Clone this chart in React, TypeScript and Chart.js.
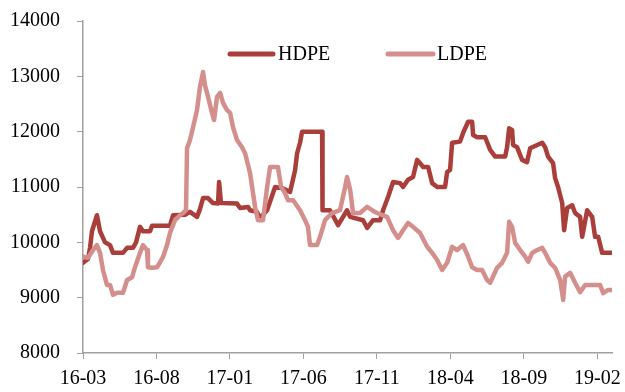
import React, { useEffect, useRef } from "react";
import { Chart, registerables } from "chart.js";

Chart.register(...registerables);

// x positions are months since 2016-03
const tickMonths = [0, 5, 10, 15, 20, 25, 30, 35];
const tickLabels = ["16-03", "16-08", "17-01", "17-06", "17-11", "18-04", "18-09", "19-02"];

const hdpeMonths = [
  0, 0.34, 0.48, 0.61, 0.95, 1.16, 1.5, 1.84, 2.04, 2.72, 3.0, 3.4, 3.61, 3.88, 4.08, 4.56, 4.7, 5.92,
  6.13, 6.94, 7.28, 7.76, 7.96, 8.17, 8.51, 8.85, 9.19, 9.26, 9.39, 10.48, 10.69, 11.23, 11.37, 11.84,
  12.05, 12.53, 13.07, 13.55, 14.09, 14.43, 14.57, 14.77, 14.91, 16.27, 16.3, 16.81, 17.36, 17.97, 18.18,
  19.06, 19.34, 19.74, 20.22, 20.42, 20.76, 21.1, 21.58, 21.78, 22.12, 22.46, 22.74, 22.94, 23.15, 23.49,
  23.76, 24.1, 24.64, 24.78, 24.98, 25.12, 25.66, 25.87, 26.21, 26.48, 26.55, 26.82, 27.37, 27.71, 28.05,
  28.73, 28.86, 29.0, 29.2, 29.27, 29.54, 29.88, 30.22, 30.43, 30.91, 31.25, 31.45, 31.65, 31.99, 32.13,
  32.33, 32.61, 32.74, 32.95, 33.29, 33.49, 33.83, 33.97, 34.31, 34.65, 34.85, 35.06, 35.33, 36.0,
];
const hdpeValues = [
  9630, 9700, 9900, 10200, 10490, 10200, 10000, 9950, 9810, 9810, 9900, 9900, 10000, 10280, 10200, 10200,
  10300, 10300, 10490, 10500, 10550, 10460, 10600, 10800, 10800, 10710, 10700, 11090, 10710, 10700, 10620,
  10640, 10580, 10550, 10440, 10580, 11000, 10980, 10910, 11300, 11610, 11800, 12000, 12000, 10580, 10580,
  10310, 10580, 10460, 10400, 10260, 10400, 10400, 10580, 10820, 11090, 11070, 11000, 11130, 11180, 11490,
  11430, 11360, 11360, 11070, 11000, 11000, 11270, 11310, 11800, 11820, 11980, 12180, 12180, 11940, 11900,
  11900, 11670, 11550, 11550, 11720, 12060, 12030, 11760, 11720, 11490, 11450, 11700, 11760, 11800, 11720,
  11550, 11430, 11160, 11000, 10710, 10220, 10620, 10670, 10530, 10460, 10100, 10580, 10460, 10100, 10100,
  9810, 9810,
];

const ldpeMonths = [
  0, 0.34, 0.68, 0.95, 1.16, 1.36, 1.63, 1.84, 2.04, 2.31, 2.72, 3.0, 3.34, 3.54, 3.88, 4.08, 4.36, 4.42,
  4.7, 5.04, 5.24, 5.45, 5.72, 5.92, 6.26, 6.6, 6.81, 7.01, 7.08, 7.28, 7.49, 7.76, 7.96, 8.17, 8.3, 8.51,
  8.78, 8.92, 9.12, 9.33, 9.53, 9.8, 10.01, 10.21, 10.48, 10.82, 11.03, 11.37, 11.57, 11.71, 11.91, 12.25,
  12.53, 12.73, 13.27, 13.48, 13.75, 13.96, 14.3, 14.77, 15.11, 15.31, 15.45, 15.93, 16.13, 16.47, 16.95,
  17.49, 17.84, 17.97, 18.18, 18.38, 18.86, 19.33, 19.67, 20.01, 20.69, 21.1, 21.44, 21.78, 22.12, 22.46,
  22.94, 23.42, 23.76, 24.1, 24.44, 24.78, 25.12, 25.46, 25.87, 26.21, 26.48, 26.82, 27.16, 27.5, 27.71,
  28.18, 28.52, 28.86, 29.0, 29.2, 29.41, 29.75, 30.09, 30.29, 30.57, 30.91, 31.25, 31.45, 31.79, 32.13,
  32.47, 32.68, 32.81, 33.15, 33.49, 33.83, 34.17, 35.19, 35.4, 35.74, 36.0,
];
const ldpeValues = [
  9740, 9720, 9860, 9950, 9810, 9500, 9230, 9230, 9050, 9090, 9090, 9320, 9370, 9550, 9810, 9950, 9860,
  9550, 9540, 9550, 9640, 9740, 9950, 10170, 10400, 10490, 10530, 10580, 11700, 11850, 12080, 12390, 12810,
  13080, 12840, 12630, 12340, 12210, 12630, 12700, 12520, 12390, 12340, 12080, 11850, 11720, 11610, 11250,
  10890, 10640, 10400, 10400, 11000, 11360, 11360, 11000, 10890, 10760, 10760, 10580, 10400, 10280, 9950,
  9950, 10100, 10400, 10530, 10580, 11000, 11180, 10950, 10530, 10530, 10640, 10580, 10530, 10460, 10220,
  10080, 10220, 10350, 10280, 10170, 9920, 9810, 9680, 9500, 9630, 9920, 9860, 9950, 9740, 9550, 9500, 9500,
  9320, 9270, 9540, 9630, 9810, 10370, 10280, 9990, 9860, 9740, 9650, 9810, 9860, 9900, 9810, 9630, 9540,
  9320, 8960, 9380, 9450, 9270, 9100, 9230, 9230, 9080, 9140, 9140,
];

const HDPE_COLOR = "#A93E3A";
const LDPE_COLOR = "#D48F8D";
const AXIS_COLOR = "#A0A0A0";
const FONT_FAMILY = '"Liberation Serif", "Times New Roman", serif';

const legendPlugin = {
  id: "customLegend",
  afterDraw(chart: any) {
    const ctx = chart.ctx;
    const items = [
      { ds: 0, x1: 230, x2: 273, tx: 278 },
      { ds: 1, x1: 388, x2: 433, tx: 437 },
    ];
    const y = 54;
    ctx.save();
    for (const it of items) {
      const ds = chart.data.datasets[it.ds];
      ctx.strokeStyle = ds.borderColor;
      ctx.lineWidth = 5;
      ctx.lineCap = "round";
      ctx.beginPath();
      ctx.moveTo(it.x1, y);
      ctx.lineTo(it.x2, y);
      ctx.stroke();
      ctx.fillStyle = "#000";
      ctx.font = `20px ${FONT_FAMILY}`;
      ctx.textBaseline = "middle";
      ctx.textAlign = "left";
      ctx.fillText(ds.label, it.tx, y + 1);
    }
    ctx.restore();
  },
};

export default function App() {
  const ref = useRef<HTMLCanvasElement>(null);
  useEffect(() => {
    document.body.style.margin = "0";
    const canvas = ref.current!;
    const chart = new Chart(canvas, {
      type: "line",
      data: {
        datasets: [
          {
            label: "HDPE",
            data: hdpeMonths.map((m, i) => ({ x: m, y: hdpeValues[i] })),
            borderColor: HDPE_COLOR,
            backgroundColor: HDPE_COLOR,
            borderWidth: 4.5,
            pointRadius: 0,
            tension: 0,
            borderJoinStyle: "round",
            borderCapStyle: "round",
            order: 1,
          },
          {
            label: "LDPE",
            data: ldpeMonths.map((m, i) => ({ x: m, y: ldpeValues[i] })),
            borderColor: LDPE_COLOR,
            backgroundColor: LDPE_COLOR,
            borderWidth: 4.5,
            pointRadius: 0,
            tension: 0,
            borderJoinStyle: "round",
            borderCapStyle: "round",
            order: 0,
          },
        ],
      },
      options: {
        responsive: false,
        animation: false,
        devicePixelRatio: 1,
        layout: { autoPadding: false, padding: { top: 21, right: 13, left: 0, bottom: 0 } },
        plugins: { legend: { display: false }, tooltip: { enabled: false } },
        scales: {
          x: {
            type: "linear",
            min: 0,
            max: 36,
            afterBuildTicks: (scale: any) => {
              scale.ticks = tickMonths.map((v) => ({ value: v }));
            },
            afterFit: (scale: any) => {
              scale.height = 39;
              scale.paddingLeft = 0;
              scale.paddingRight = 0;
            },
            grid: {
              drawOnChartArea: false,
              drawTicks: true,
              tickLength: 6,
              color: AXIS_COLOR,
            },
            border: { display: true, color: AXIS_COLOR, width: 1.5 },
            ticks: {
              autoSkip: false,
              maxRotation: 0,
              padding: 8,
              color: "#000",
              font: { family: FONT_FAMILY, size: 20 },
              callback: (v: any) => {
                const i = tickMonths.indexOf(Number(v));
                return i >= 0 ? tickLabels[i] : "";
              },
            },
          },
          y: {
            min: 8000,
            max: 14000,
            afterFit: (scale: any) => {
              scale.width = 83;
              scale.paddingTop = 0;
              scale.paddingBottom = 0;
            },
            grid: {
              drawOnChartArea: false,
              drawTicks: true,
              tickLength: 6,
              color: AXIS_COLOR,
            },
            border: { display: true, color: AXIS_COLOR, width: 1.5 },
            ticks: {
              stepSize: 1000,
              padding: 17,
              color: "#000",
              font: { family: FONT_FAMILY, size: 20 },
              callback: (v: any) => String(v),
            },
          },
        },
      },
      plugins: [legendPlugin],
    } as any);
    return () => chart.destroy();
  }, []);
  return (
    <div style={{ width: 625, height: 392 }}>
      <canvas ref={ref} width={625} height={392} style={{ display: "block" }} />
    </div>
  );
}
